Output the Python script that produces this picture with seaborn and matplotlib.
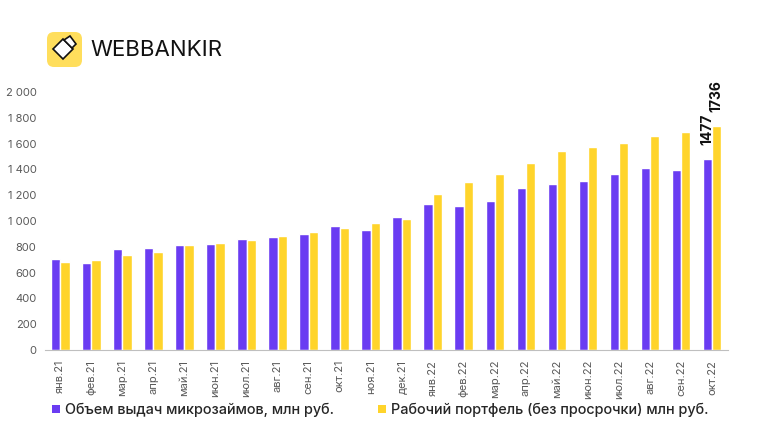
import pandas as pd
import numpy as np
import matplotlib
matplotlib.use('Agg')
import matplotlib.pyplot as plt
import seaborn as sns
from matplotlib.patches import FancyBboxPatch, Polygon, Patch

months = ['янв.21', 'фев.21', 'мар.21', 'апр.21', 'май.21', 'июн.21', 'июл.21',
          'авг.21', 'сен.21', 'окт.21', 'ноя.21', 'дек.21', 'янв.22', 'фев.22',
          'мар.22', 'апр.22', 'май.22', 'июн.22', 'июл.22', 'авг.22', 'сен.22',
          'окт.22']
issued = [705, 676, 780, 787, 813, 823, 857, 875, 901, 960, 929, 1028, 1131,
          1113, 1157, 1252, 1286, 1309, 1362, 1407, 1392, 1477]
portfolio = [684, 699, 733, 759, 816, 831, 852, 880, 911, 945, 984, 1017, 1209,
             1299, 1361, 1451, 1539, 1573, 1604, 1655, 1691, 1736]
series_names = ['Объем выдач микрозаймов, млн руб.',
                'Рабочий портфель (без просрочки) млн руб.']
colors = ['#6A3CF2', '#FFD42B']

df = pd.DataFrame({
    'month': months * 2,
    'value': issued + portfolio,
    'series': [series_names[0]] * len(months) + [series_names[1]] * len(months),
})

sns.set_style('white')
plt.rcParams['font.family'] = ['Inter', 'DejaVu Sans']

fig = plt.figure(figsize=(7.58, 4.46), dpi=100)
ax = fig.add_axes([0.059, 0.215, 0.901, 0.579])

sns.barplot(data=df, x='month', y='value', hue='series', palette=colors,
            width=0.6, gap=0, saturation=1, legend=False, ax=ax)

ax.set_ylim(0, 2000)
ax.set_xlim(-0.5, len(months) - 0.5)
ax.set_yticks(range(0, 2001, 200))
ax.set_yticklabels([f'{v:,}'.replace(',', ' ') for v in range(0, 2001, 200)],
                   fontsize=8, color='#595959')
ax.set_xlabel('')
ax.set_ylabel('')
ax.set_xticks(range(len(months)))
ax.set_xticklabels(months, rotation=90, fontsize=8, color='#595959')
ax.set_xticks(np.arange(-0.5, len(months), 1), minor=True)
ax.tick_params(axis='x', which='major', length=0, pad=7)
ax.tick_params(axis='x', which='minor', length=5, color='#bfbfbf', direction='out')
ax.tick_params(axis='y', length=0, pad=6)
for s in ['top', 'right', 'left']:
    ax.spines[s].set_visible(False)
ax.spines['bottom'].set_color('#bfbfbf')

# value labels on the last pair
n = len(months) - 1
for bar_container, vals in zip(ax.containers, [issued, portfolio]):
    b = bar_container[n]
    ax.text(b.get_x() + b.get_width() / 2, vals[n] + 110, str(vals[n]),
            rotation=90, ha='center', va='bottom', fontsize=10,
            fontweight='bold', color='#111111')

# logo
fig.patches.append(FancyBboxPatch((47, 446 - 67), 35, 35, boxstyle='round,pad=0,rounding_size=7',
                                  transform=None, facecolor='#FFDE5C', edgecolor='none'))
fig.patches.append(Polygon([(53, 446 - 49), (63, 446 - 39), (73, 446 - 49), (63, 446 - 59)],
                           closed=True, transform=None, facecolor='white',
                           edgecolor='#111111', linewidth=1.2))
fig.patches.append(Polygon([(64, 446 - 40), (70, 446 - 36), (76, 446 - 44), (72, 446 - 48)],
                           closed=True, transform=None, facecolor='white',
                           edgecolor='#111111', linewidth=1.2))
fig.text(90 / 758, 1 - 50 / 446, 'WEBBANKIR', fontsize=16, color='#111111',
         va='center', ha='left')

handles = [Patch(facecolor=c, edgecolor='none') for c in colors]
fig.legend(handles, series_names, loc='center left', bbox_to_anchor=(0.052, 0.081),
           ncol=2, frameon=False, fontsize=10.4, handlelength=0.55, handleheight=0.55,
           handletextpad=0.35, columnspacing=3.0,
           prop={'size': 10.4, 'weight': 'medium'})

fig.savefig('out.png', dpi=100, facecolor='white')
